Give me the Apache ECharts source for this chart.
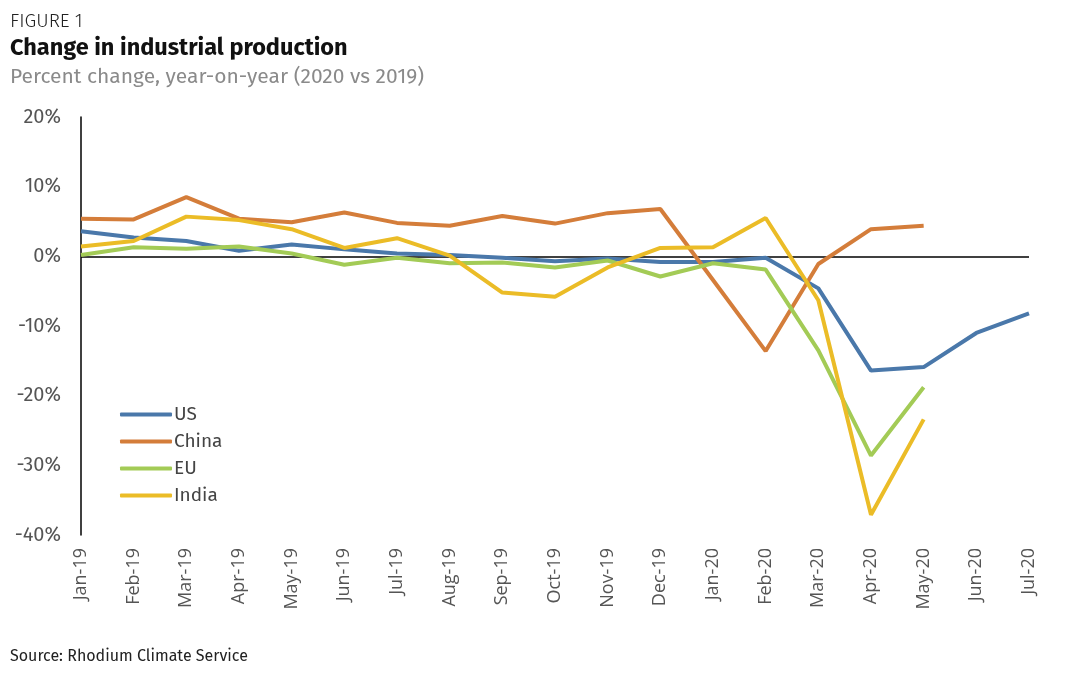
<!DOCTYPE html>
<html><head><meta charset="utf-8">
<script src="https://cdn.jsdelivr.net/npm/echarts@6/dist/echarts.min.js"></script>
<style>html,body{margin:0;padding:0;background:#fff}#c{width:1066px;height:680px}</style>
</head><body><div id="c"></div>
<script>
const categories = ["Jan-19","Feb-19","Mar-19","Apr-19","May-19","Jun-19","Jul-19","Aug-19","Sep-19","Oct-19","Nov-19","Dec-19","Jan-20","Feb-20","Mar-20","Apr-20","May-20","Jun-20","Jul-20"];
const us    = [3.6, 2.7, 2.2, 0.8, 1.7, 1.0, 0.4, 0.2, -0.2, -0.7, -0.3, -0.8, -0.8, -0.2, -4.6, -16.4, -15.9, -11.0, -8.2];
const china = [5.4, 5.3, 8.5, 5.4, 4.9, 6.3, 4.8, 4.4, 5.8, 4.7, 6.2, 6.8, -3.4, -13.6, -1.1, 3.9, 4.4, null, null];
const eu    = [0.2, 1.3, 1.1, 1.4, 0.4, -1.2, -0.2, -1.0, -0.9, -1.6, -0.6, -2.9, -1.0, -1.9, -13.5, -28.6, -18.8, null, null];
const india = [1.4, 2.2, 5.7, 5.2, 3.9, 1.2, 2.6, 0.1, -5.2, -5.8, -1.6, 1.2, 1.3, 5.5, -6.3, -37.1, -23.4, null, null];
const yTicks = [-40, -30, -20, -10, 0, 10, 20];

const font = "'Fira Sans','Open Sans','Noto Sans',sans-serif";
const chart = echarts.init(document.getElementById('c'));
function mk(name, data, color, extra) {
  return Object.assign({
    name, type: 'line', data, symbol: 'none', smooth: false,
    lineStyle: { width: 4, color }, itemStyle: { color },
    z: 3, animation: false
  }, extra || {});
}
chart.setOption({
  animation: false,
  textStyle: { fontFamily: font },
  title: [
    { text: 'FIGURE 1', left: 5, top: 7, textStyle: { fontSize: 19, fontWeight: 300, color: '#222', fontFamily: font } },
    { text: 'Change in industrial production', left: 5, top: 31, textStyle: { fontSize: 23.5, fontWeight: 'bold', color: '#111', fontFamily: font } },
    { text: 'Percent change, year-on-year (2020 vs 2019)', left: 5, top: 62, textStyle: { fontSize: 21, fontWeight: 'normal', color: '#8a8a8a', fontFamily: font } },
    { text: 'Source: Rhodium Climate Service', left: 5, top: 644, textStyle: { fontSize: 16, fontWeight: 'normal', color: '#222', fontFamily: font } }
  ],
  legend: {
    orient: 'vertical', left: 115, top: 400,
    itemWidth: 52, itemHeight: 4, itemGap: 8, icon: 'roundRect',
    textStyle: { fontSize: 19, color: '#444', lineHeight: 19, padding: [0,0,0,-3], fontFamily: font },
    data: ['US','China','EU','India']
  },
  grid: { left: 81, right: 37, top: 117, bottom: 145, containLabel: false },
  xAxis: {
    type: 'category', data: categories, boundaryGap: false,
    axisLine: { show: false }, axisTick: { show: false }, splitLine: { show: false },
    axisLabel: { rotate: 90, interval: 0, fontSize: 18, color: '#555', margin: 13, fontFamily: "'Open Sans',sans-serif" }
  },
  yAxis: {
    type: 'value', min: -40, max: 20, interval: 10,
    axisLine: { show: true, onZero: false, lineStyle: { color: '#000', width: 1.5 } },
    axisTick: { show: false }, splitLine: { show: false },
    axisLabel: { fontSize: 20, color: '#555', margin: 20, formatter: v => yTicks.includes(v) ? v + '%' : '', fontFamily: font }
  },
  series: [
    mk('US', us, '#4a78aa', {
      markLine: { silent: true, symbol: 'none', label: { show: false },
        lineStyle: { color: '#000', width: 1.5, type: 'solid' }, data: [{ yAxis: 0 }], z: 1 }
    }),
    mk('China', china, '#d47d3a'),
    mk('EU', eu, '#a3cb56'),
    mk('India', india, '#ebbc27')
  ]
});
</script></body></html>
